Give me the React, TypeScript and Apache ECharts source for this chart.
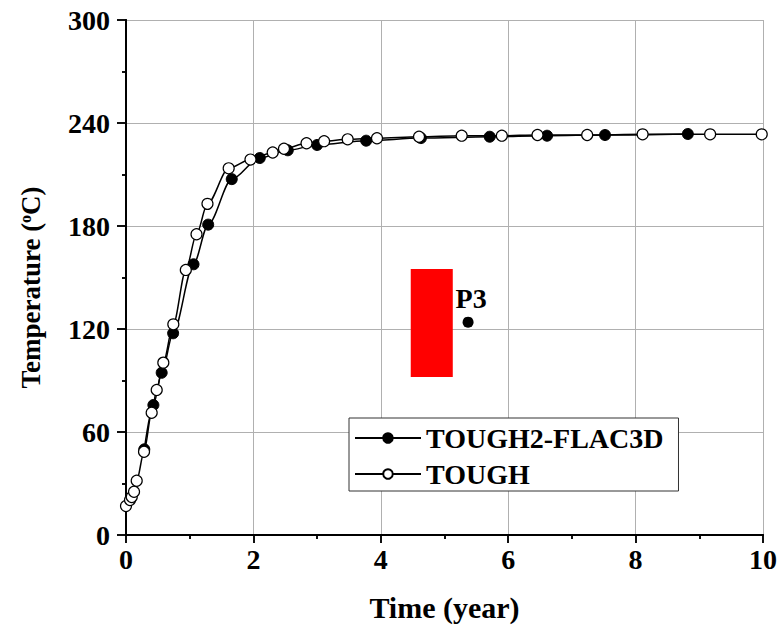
import React, { useEffect, useRef } from "react";
import * as echarts from "echarts";

// Temperature history at monitoring point P3
const timeFlac = [0.287, 0.43, 0.56, 0.74, 1.06, 1.29, 1.66, 2.1, 2.54, 3.0, 3.77, 4.63, 5.71, 6.61, 7.52, 8.82];
const tempFlac = [49.9, 75.7, 94.5, 117.5, 157.7, 180.8, 207.3, 219.6, 224.1, 227.2, 229.7, 231.2, 232.0, 232.6, 233.0, 233.6];

const timeTough = [0, 0.063, 0.09, 0.126, 0.168, 0.283, 0.403, 0.482, 0.586, 0.743, 0.939, 1.107, 1.279, 1.612, 1.954, 2.303, 2.48, 2.834, 3.11, 3.48, 3.94, 4.6, 5.27, 5.9, 6.46, 7.24, 8.11, 9.17, 9.98];
const tempTough = [16.9, 20.4, 22.1, 25.2, 31.6, 48.5, 71.2, 84.5, 100.4, 122.7, 154.4, 175.2, 192.9, 213.6, 218.7, 222.8, 225.0, 228.2, 229.4, 230.5, 231.1, 232.0, 232.6, 232.6, 233.0, 233.0, 233.4, 233.4, 233.4];

// Location marker: point P3 and the red heat-source block beside it
const pointP3 = [5.37, 124];
const sourceBlock = { x: [4.47, 5.13], y: [92, 155] };

const xTicks = { min: 0, max: 10, interval: 2 };
const yTicks = { min: 0, max: 300, interval: 60 };

const FONT = "'Liberation Serif', 'Times New Roman', serif";

export default function App() {
  const ref = useRef<HTMLDivElement>(null);

  useEffect(() => {
    if (!ref.current) return;
    const chart = echarts.init(ref.current, null, { renderer: "svg" });

    const flac = timeFlac.map((t, i) => [t, tempFlac[i]]);
    const tough = timeTough.map((t, i) => [t, tempTough[i]]);

    const frameAxisLine = { show: true, lineStyle: { color: "#000", width: 2 } };
    const tickStyle = { color: "#000", width: 1.5 };

    chart.setOption({
      animation: false,
      backgroundColor: "#fff",
      grid: { left: 126, right: 18, top: 20, bottom: 100, containLabel: false },
      legend: {
        data: ["TOUGH2-FLAC3D", "TOUGH"],
        orient: "vertical",
        left: 349,
        top: 418,
        itemWidth: 66,
        itemHeight: 12,
        itemGap: 8,
        padding: [6, 15, 3, 5],
        borderColor: "#333",
        borderWidth: 1,
        backgroundColor: "#fff",
        textStyle: { fontFamily: FONT, fontWeight: "bold", fontSize: 28, color: "#000" },
      },
      xAxis: [
        {
          type: "value",
          min: xTicks.min,
          max: xTicks.max,
          interval: xTicks.interval,
          name: "Time (year)",
          nameLocation: "middle",
          nameGap: 57,
          nameTextStyle: { fontFamily: FONT, fontWeight: "bold", fontSize: 30, color: "#000" },
          axisLine: frameAxisLine,
          axisTick: { show: true, inside: false, length: 8, lineStyle: tickStyle },
          minorTick: { show: true, splitNumber: 2, length: 4, lineStyle: tickStyle },
          axisLabel: { margin: 10, fontFamily: FONT, fontWeight: "bold", fontSize: 28, color: "#000" },
          splitLine: { show: true, lineStyle: { color: "#b0b0b0", width: 1 } },
        },
        {
          type: "value",
          position: "top",
          min: xTicks.min,
          max: xTicks.max,
          interval: xTicks.interval,
          axisLine: frameAxisLine,
          axisTick: { show: true, inside: true, length: 8, lineStyle: tickStyle },
          minorTick: { show: true, splitNumber: 2, length: 4, lineStyle: tickStyle },
          axisLabel: { show: false },
          splitLine: { show: false },
        },
      ],
      yAxis: [
        {
          type: "value",
          min: yTicks.min,
          max: yTicks.max,
          interval: yTicks.interval,
          name: "{t|Temperature (}{s|o}{t|C)}",
          nameLocation: "middle",
          nameGap: 82,
          nameTextStyle: {
            fontFamily: FONT,
            fontWeight: "bold",
            fontSize: 27,
            color: "#000",
            padding: [0, 20, 0, 0],
            rich: {
              t: { fontFamily: FONT, fontWeight: "bold", fontSize: 27, color: "#000" },
              s: { fontFamily: FONT, fontWeight: "bold", fontSize: 16, color: "#000", verticalAlign: "top", padding: [0, 0, 10, 0] },
            },
          },
          axisLine: frameAxisLine,
          axisTick: { show: true, inside: false, length: 9, lineStyle: tickStyle },
          minorTick: { show: true, splitNumber: 2, length: 4, lineStyle: tickStyle },
          axisLabel: { margin: 16, fontFamily: FONT, fontWeight: "bold", fontSize: 28, color: "#000" },
          splitLine: { show: true, lineStyle: { color: "#b0b0b0", width: 1 } },
        },
        {
          type: "value",
          position: "right",
          min: yTicks.min,
          max: yTicks.max,
          interval: yTicks.interval,
          axisLine: frameAxisLine,
          axisTick: { show: true, inside: true, length: 9, lineStyle: tickStyle },
          minorTick: { show: true, splitNumber: 2, length: 4, lineStyle: tickStyle },
          axisLabel: { show: false },
          splitLine: { show: false },
        },
      ],
      series: [
        {
          name: "P3",
          type: "scatter",
          data: [pointP3],
          symbol: "circle",
          symbolSize: 11,
          itemStyle: { color: "#000", opacity: 1 },
          label: {
            show: true,
            formatter: "P3",
            position: "top",
            distance: 4,
            offset: [3, 0],
            fontFamily: FONT,
            fontWeight: "bold",
            fontSize: 28,
            color: "#000",
          },
          markArea: {
            silent: true,
            itemStyle: { color: "#ff0000", opacity: 1 },
            data: [
              [
                { coord: [sourceBlock.x[0], sourceBlock.y[1]] },
                { coord: [sourceBlock.x[1], sourceBlock.y[0]] },
              ],
            ],
          },
          z: 1,
        },
        {
          name: "TOUGH",
          type: "line",
          data: tough,
          smooth: 0.3,
          smoothMonotone: "x",
          symbol: "circle",
          symbolSize: 11,
          showAllSymbol: true,
          lineStyle: { color: "#000", width: 1.5 },
          itemStyle: { color: "#fff", borderColor: "#000", borderWidth: 1.2 },
          z: 3,
        },
        {
          name: "TOUGH2-FLAC3D",
          type: "line",
          data: flac,
          smooth: 0.3,
          smoothMonotone: "x",
          symbol: "circle",
          symbolSize: 11,
          showAllSymbol: true,
          lineStyle: { color: "#000", width: 1.5 },
          itemStyle: { color: "#000", borderColor: "#000", borderWidth: 1 },
          z: 2,
        },
      ],
    });

    return () => chart.dispose();
  }, []);

  return (
    <div
      ref={ref}
      style={{ position: "fixed", left: 0, top: 0, width: 781, height: 635, background: "#fff" }}
    />
  );
}
